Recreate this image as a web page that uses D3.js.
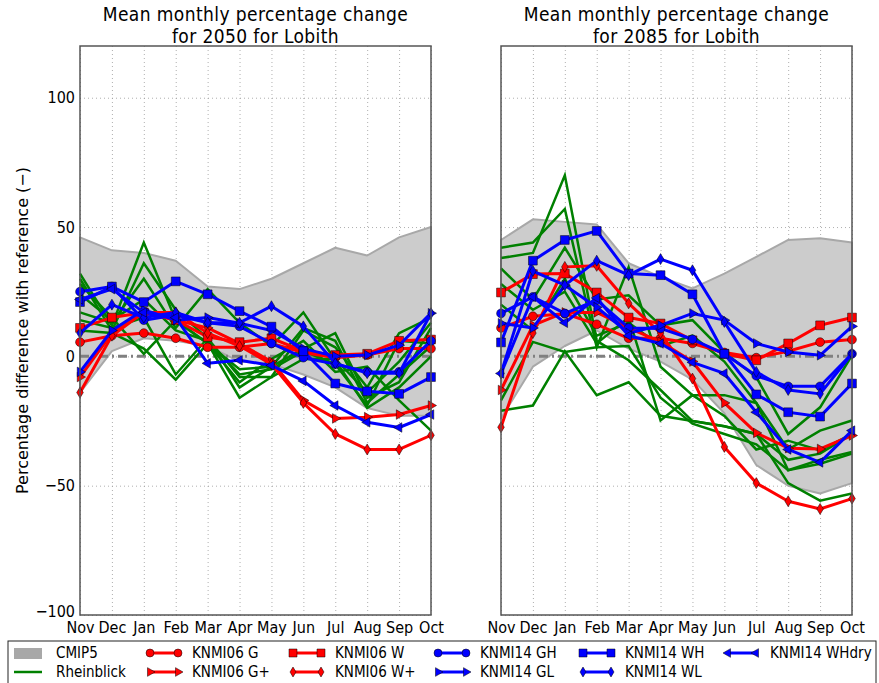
<!DOCTYPE html>
<html>
<head>
<meta charset="utf-8">
<script src="https://cdn.jsdelivr.net/npm/d3@7"></script>
<style>
  html, body { margin: 0; padding: 0; background: #fff; }
  svg text { font-family: "DejaVu Sans Condensed", "DejaVu Sans", sans-serif; font-stretch: condensed; fill: #000; }
  svg text.ylabel { font-family: "DejaVu Sans", sans-serif; font-stretch: normal; }
</style>
</head>
<body>
<svg id="chart" width="879" height="683"></svg>
<script>
// Months of the hydrological year
const months = ["Nov","Dec","Jan","Feb","Mar","Apr","May","Jun","Jul","Aug","Sep","Oct"];
const yTicks = [100, 50, 0, -50, -100];

// ---- 2050 ----
const cmip5Upper2050 = [46, 41, 40, 37, 27, 26, 30, 36, 42, 39, 46, 50];
const cmip5Lower2050 = [-14, 2, 7, 6, 4, -2, -3, -7, -12, -20, -23, -23];
const rheinblick2050 = [
  [32, 12, 44, 14, 5, -5, -4, 3, 9, -16, -10, 11],
  [30, 10, 36, 18, 7, -8, -8, 10, 3.5, -12, 9, 15],
  [17, 13, 30, 11, 26, 13, 4, 17, -1.5, -20, -12, 0],
  [14, 11, 15, -7, 7, -12, -4, 11, 6, -18, -7, 4],
  [10, 9, 3, -9, 5, -16, -8, -1, -1, -14, -2, 13],
  [28, 15, 1, 14, 5, -10, -1, 6, -6, -4, -17, -28.7],
  [24, 14, 22, 10, 6, -7, -5, 2, -3, -19, 6, 5]
];
const knmi06G_2050     = [5.5, 8, 9, 7, 3.5, 3.5, 5, 1.5, -0.5, 0.5, 3, 3];
const knmi06Gplus_2050 = [-8, 9, 17, 14, 11, 5, -2, -17, -24, -23.5, -22.5, -19];
const knmi06W_2050     = [11, 15, 17, 14, 7.5, 5.5, 7, 2, 0.5, 1, 6, 6.5];
const knmi06Wplus_2050 = [-14, 8, 17, 17, 9, 4, -3, -18, -30, -36, -36, -30.5];
const knmi14GH_2050    = [25, 27, 14, 16, 13, 11.6, 5, -0.5, -3, -6, -6, 6];
const knmi14GL_2050    = [-6, 10, 18, 14, 15, 12.8, 10, 3, 0, 0.5, 4.3, 16.7];
const knmi14WH_2050    = [21, 27, 21, 29, 24, 17.5, 11.5, 2, -10.5, -13.5, -14.5, -8];
const knmi14WL_2050    = [9, 20, 15, 17, 13, 13, 19.4, 11.6, -2.7, -6.5, -6.5, 16.7];
const knmi14WHdry_2050 = [22, 26, 17, 15, -2.7, -1.5, -3.5, -9.5, -19, -25.5, -27.5, -22.5];

// ---- 2085 ----
const cmip5Upper2085 = [45, 53, 52, 51, 36, 30.7, 26.3, 32, 38.5, 45, 45.7, 44];
const cmip5Lower2085 = [-24, -4, 4, 10, 3, -2, -9, -22, -42, -50, -53, -49];
const rheinblick2085 = [
  [38, 40, 70, 6, -1.5, -13, -25, -27, -30, -40, -37.6, -30],
  [42, 44, 57, 3.5, 34.5, -4, -15, -15, -18, -36, -28.7, -24.8],
  [34, 22, 42, 22, 23.6, 12, 14, 1.5, -8, -30, -19.7, 0.4],
  [-17, 5.6, 1.7, 3.5, 4, -16, -26, -30, -34, -44, -41.5, -37.6],
  [-21, -19, 2, -15, -10, -23, -25, -27, -30, -49, -55.8, -53],
  [28, 18, 25, 5, 15, -24.8, -15, -23, -36, -32.6, -36.4, -30],
  [20, 10, 30, 8, 13, 4, 8, -2, -18, -44, -40, -37]
];
const knmi06G_2085     = [11, 15.5, 16.5, 12.4, 7, 7, 5, 1.5, -0.5, 2, 5.5, 6.5];
const knmi06Gplus_2085 = [-13, 12, 17, 17, 11, 5.6, -2, -18, -29.6, -35.5, -35.8, -30.6];
const knmi06W_2085     = [24.7, 31.8, 32, 24.7, 15, 12.7, 6.2, 1, -1.5, 5, 12, 15];
const knmi06Wplus_2085 = [-27.4, 9, 34.6, 35, 20.5, 9, -8.6, -35, -49, -56, -59, -55];
const knmi14GH_2085    = [16.6, 23, 16.6, 21.7, 11, 10.8, 6.6, 1, -7.5, -11.6, -11.6, 1];
const knmi14GL_2085    = [12.8, 11, 27.5, 19, 9, 12, 16.6, 14, 5, 1.7, 0.4, 11.6];
const knmi14WH_2085    = [5.4, 37, 45, 48.5, 32, 31.4, 24, 1, -14.7, -21.6, -23.3, -10.5];
const knmi14WL_2085    = [-6.6, 33, 27.5, 37, 31.4, 37.6, 33.3, 13.3, -6, -13, -14.5, 1];
const knmi14WHdry_2085 = [-6.6, 23, 13, 22.6, 8, 5, -2.3, -6.6, -21.6, -36, -41, -28.7];

// Scenario definitions (label, colour, marker) in drawing / legend order
const scenarios = [
  { name: "KNMI06 G",     color: "#ff0000", marker: "circle" },
  { name: "KNMI06 G+",    color: "#ff0000", marker: "triRight" },
  { name: "KNMI06 W",     color: "#ff0000", marker: "square" },
  { name: "KNMI06 W+",    color: "#ff0000", marker: "thinDiamond" },
  { name: "KNMI14 GH",    color: "#0000ff", marker: "circle" },
  { name: "KNMI14 GL",    color: "#0000ff", marker: "triRight" },
  { name: "KNMI14 WH",    color: "#0000ff", marker: "square" },
  { name: "KNMI14 WL",    color: "#0000ff", marker: "thinDiamond" },
  { name: "KNMI14 WHdry", color: "#0000ff", marker: "triLeft" }
];

const panels = [
  { title: ["Mean monthly percentage change", "for 2050 for Lobith"], x0: 80, x1: 431, showY: true,
    upper: cmip5Upper2050, lower: cmip5Lower2050, green: rheinblick2050,
    series: [knmi06G_2050, knmi06Gplus_2050, knmi06W_2050, knmi06Wplus_2050,
             knmi14GH_2050, knmi14GL_2050, knmi14WH_2050, knmi14WL_2050, knmi14WHdry_2050] },
  { title: ["Mean monthly percentage change", "for 2085 for Lobith"], x0: 501, x1: 852, showY: false,
    upper: cmip5Upper2085, lower: cmip5Lower2085, green: rheinblick2085,
    series: [knmi06G_2085, knmi06Gplus_2085, knmi06W_2085, knmi06Wplus_2085,
             knmi14GH_2085, knmi14GL_2085, knmi14WH_2085, knmi14WL_2085, knmi14WHdry_2085] }
];

const svg = d3.select("#chart");
const yTop = 46, yBottom = 615;
const y = d3.scaleLinear().domain([-100, 120]).range([yBottom, yTop]);

function markerPath(type, s) {
  const p = d3.path();
  if (type === "circle") {
    p.arc(0, 0, s * 0.8, 0, 2 * Math.PI);
  } else if (type === "square") {
    const h = s * 0.8;
    p.rect(-h, -h, 2 * h, 2 * h);
  } else if (type === "triRight") {
    p.moveTo(s, 0); p.lineTo(-s * 0.5, -s * 0.87); p.lineTo(-s * 0.5, s * 0.87); p.closePath();
  } else if (type === "triLeft") {
    p.moveTo(-s, 0); p.lineTo(s * 0.5, -s * 0.87); p.lineTo(s * 0.5, s * 0.87); p.closePath();
  } else if (type === "thinDiamond") {
    p.moveTo(0, -s); p.lineTo(s * 0.6, 0); p.lineTo(0, s); p.lineTo(-s * 0.6, 0); p.closePath();
  }
  return p.toString();
}

panels.forEach(panel => {
  const x = d3.scalePoint().domain(months).range([panel.x0, panel.x1]);
  const g = svg.append("g");

  // grid
  const xAxisGrid = d3.axisBottom(x).tickSize(-(yBottom - yTop)).tickFormat("");
  g.append("g").attr("transform", `translate(0,${yBottom})`).call(xAxisGrid)
    .call(a => a.select(".domain").remove())
    .call(a => a.selectAll("line").attr("stroke", "#9a9a9a").attr("stroke-width", 0.8).attr("stroke-dasharray", "1,3"));
  const yAxisGrid = d3.axisLeft(y).tickValues(yTicks).tickSize(-(panel.x1 - panel.x0)).tickFormat("");
  g.append("g").attr("transform", `translate(${panel.x0},0)`).call(yAxisGrid)
    .call(a => a.select(".domain").remove())
    .call(a => a.selectAll("line").attr("stroke", "#9a9a9a").attr("stroke-width", 0.8).attr("stroke-dasharray", "1,3"));

  // CMIP5 band
  const area = d3.area().x((d, i) => x(months[i])).y0((d, i) => y(panel.lower[i])).y1(d => y(d));
  g.append("path").datum(panel.upper).attr("d", area)
    .attr("fill", "#cccccc").attr("stroke", "#a8a8a8").attr("stroke-width", 2).attr("stroke-linejoin", "round");

  // zero reference line
  const zero = months.map(() => 0);
  const line = d3.line().x((d, i) => x(months[i])).y(d => y(d));
  g.append("path").datum(zero).attr("d", line)
    .attr("fill", "none").attr("stroke", "#808080").attr("stroke-width", 3).attr("stroke-dasharray", "9,4,2,4");

  // Rheinblick
  panel.green.forEach(s => {
    g.append("path").datum(s).attr("d", line)
      .attr("fill", "none").attr("stroke", "#008000").attr("stroke-width", 2.5).attr("stroke-linejoin", "miter");
  });

  // KNMI scenarios
  panel.series.forEach((s, k) => {
    const sc = scenarios[k];
    g.append("path").datum(s).attr("d", line)
      .attr("fill", "none").attr("stroke", sc.color).attr("stroke-width", 3).attr("stroke-linejoin", "round");
    g.selectAll(null).data(s).enter().append("path")
      .attr("transform", (d, i) => `translate(${x(months[i])},${y(d)})`)
      .attr("d", markerPath(sc.marker, 5.5))
      .attr("fill", sc.color).attr("stroke", "#000").attr("stroke-width", 0.5);
  });

  // frame
  g.append("rect").attr("x", panel.x0).attr("y", yTop).attr("width", panel.x1 - panel.x0).attr("height", yBottom - yTop)
    .attr("fill", "none").attr("stroke", "#555").attr("stroke-width", 1.5);

  // axes
  const xAxis = d3.axisBottom(x).tickSize(0).tickPadding(6);
  g.append("g").attr("transform", `translate(0,${yBottom})`).call(xAxis)
    .call(a => a.select(".domain").remove())
    .call(a => a.selectAll("text").attr("font-size", 16).attr("dy", "0.72em"));
  if (panel.showY) {
    const yAxis = d3.axisLeft(y).tickValues(yTicks).tickSize(0).tickPadding(5)
      .tickFormat(d => d < 0 ? "\u2212" + Math.abs(d) : d);
    g.append("g").attr("transform", `translate(${panel.x0},0)`).call(yAxis)
      .call(a => a.select(".domain").remove())
      .call(a => a.selectAll("text").attr("font-size", 16))
      .call(a => a.selectAll(".tick").filter(d => d === -100).select("text").attr("dy", "0.1em"));
  }

  // title
  const cx = (panel.x0 + panel.x1) / 2;
  panel.title.forEach((t, i) => {
    svg.append("text").attr("x", cx).attr("y", 21 + i * 22).attr("text-anchor", "middle")
      .attr("font-size", 19).attr("letter-spacing", 0.4).text(t);
  });
});

// y label
svg.append("text").attr("class", "ylabel")
  .attr("transform", `translate(22,${(yTop + yBottom) / 2}) rotate(-90)`)
  .attr("text-anchor", "middle").attr("dy", "0.35em").attr("font-size", 16)
  .text("Percentage difference with reference (\u2212)");

// legend
const legend = svg.append("g");
legend.append("rect").attr("x", 8).attr("y", 641).attr("width", 868).attr("height", 50)
  .attr("fill", "#fff").attr("stroke", "#222").attr("stroke-width", 1);
const legendItems = [
  { name: "CMIP5", type: "patch" },
  { name: "Rheinblick", type: "green" }
].concat(scenarios.map(s => ({ name: s.name, type: "scenario", sc: s })));
const colX = [14, 150, 293, 438, 583, 728];
const rowY = [653, 672];
legendItems.forEach((item, i) => {
  const col = Math.floor(i / 2), row = i % 2;
  const lx = colX[col], ly = rowY[row];
  const lg = legend.append("g");
  if (item.type === "patch") {
    lg.append("rect").attr("x", lx).attr("y", ly - 5).attr("width", 28).attr("height", 11)
      .attr("fill", "#a8a8a8");
  } else if (item.type === "green") {
    lg.append("line").attr("x1", lx).attr("x2", lx + 28).attr("y1", ly).attr("y2", ly)
      .attr("stroke", "#008000").attr("stroke-width", 2.5);
  } else {
    lg.append("line").attr("x1", lx).attr("x2", lx + 28).attr("y1", ly).attr("y2", ly)
      .attr("stroke", item.sc.color).attr("stroke-width", 3);
    [lx, lx + 28].forEach(mx => {
      lg.append("path").attr("transform", `translate(${mx},${ly})`).attr("d", markerPath(item.sc.marker, 5))
        .attr("fill", item.sc.color).attr("stroke", "#000").attr("stroke-width", 0.5);
    });
  }
  lg.append("text").attr("x", lx + 42).attr("y", ly).attr("dy", "0.35em").attr("font-size", 15).text(item.name);
});
</script>
</body>
</html>
